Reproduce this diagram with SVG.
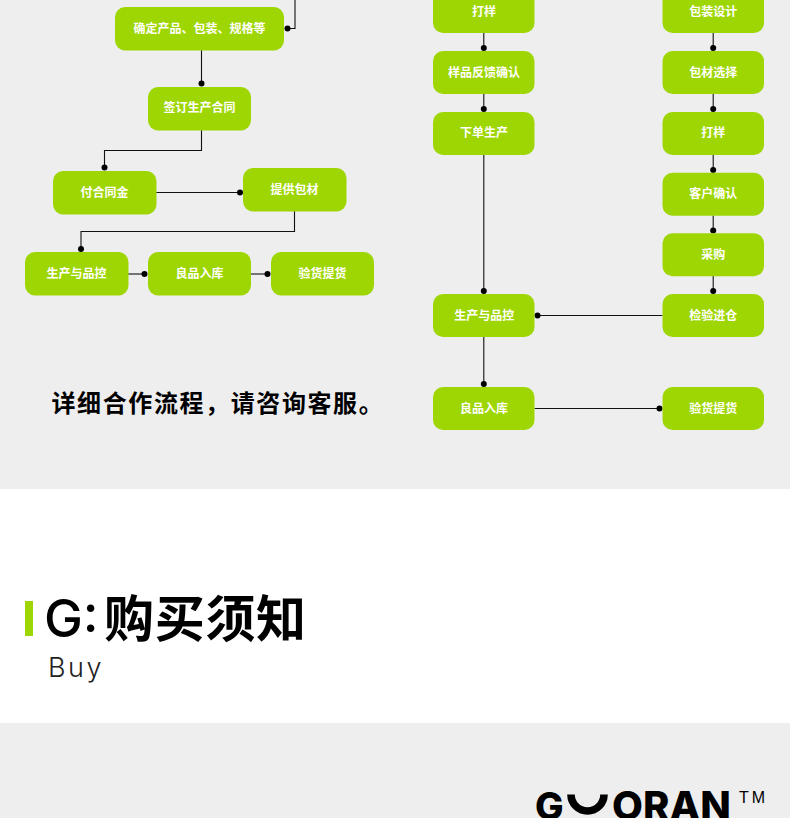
<svg xmlns="http://www.w3.org/2000/svg" width="790" height="818" viewBox="0 0 790 818">
<style>
.bg{fill:#eeeeee}
.n rect{fill:#9ed604}
.n text{fill:#fff;font:700 12px "Noto Sans CJK SC","Noto Sans",sans-serif;text-anchor:middle}
.c{fill:none;stroke:#111;stroke-width:1.1;marker-end:url(#dot)}
</style>
<defs>
<marker id="dot" markerUnits="userSpaceOnUse" markerWidth="8" markerHeight="8" refX="4" refY="4" orient="auto"><circle cx="4" cy="4" r="3" fill="#000"/></marker>
</defs>
<rect class="bg" x="0" y="0" width="790" height="489"/>
<rect x="0" y="489" width="790" height="234" fill="#fff"/>
<rect class="bg" x="0" y="723" width="790" height="95"/>
<g id="connectors">
<path class="c" d="M295 0V28.500H287.500"/>
<path class="c" d="M201.500 50V83.500"/>
<path class="c" d="M201.500 130V150.500H104.500V167.500"/>
<path class="c" d="M156 192.500H240"/>
<path class="c" d="M294.500 211V231.500H81V249"/>
<path class="c" d="M128 274H144.500"/>
<path class="c" d="M251 274H267.500"/>
<path class="c" d="M483.800 33V48"/>
<path class="c" d="M483.800 94V109"/>
<path class="c" d="M483.800 155V291"/>
<path class="c" d="M483.800 337V384"/>
<path class="c" d="M713.200 33V48"/>
<path class="c" d="M713.200 94V109"/>
<path class="c" d="M713.200 155V170"/>
<path class="c" d="M713.200 215.500V230.500"/>
<path class="c" d="M713.200 276V291"/>
<path class="c" d="M662.500 315.500H537.500"/>
<path class="c" d="M534.500 408.500H659.500"/>
</g>
<g id="n1" class="n"><rect x="115" y="7" width="169" height="43.500" rx="10"/><text x="199.500" y="32.500">确定产品、包装、规格等</text></g>
<g id="n2" class="n"><rect x="148" y="87" width="103" height="43.500" rx="10"/><text x="199.500" y="112">签订生产合同</text></g>
<g id="n3" class="n"><rect x="53" y="171" width="103.500" height="43.500" rx="10"/><text x="104.500" y="197">付合同金</text></g>
<g id="n4" class="n"><rect x="243" y="168" width="103.500" height="43.500" rx="10"/><text x="294.500" y="194">提供包材</text></g>
<g id="n5" class="n"><rect x="25" y="252" width="103.500" height="43.500" rx="10"/><text x="76.500" y="278">生产与品控</text></g>
<g id="n6" class="n"><rect x="148" y="252" width="103" height="43.500" rx="10"/><text x="199.500" y="278">良品入库</text></g>
<g id="n7" class="n"><rect x="271" y="252" width="103" height="43.500" rx="10"/><text x="322.500" y="278">验货提货</text></g>
<g id="a1" class="n"><rect x="433" y="-10" width="101.500" height="43" rx="10"/><text x="484" y="16">打样</text></g>
<g id="a2" class="n"><rect x="433" y="51" width="101.500" height="43" rx="10"/><text x="484" y="77">样品反馈确认</text></g>
<g id="a3" class="n"><rect x="433" y="112" width="101.500" height="43" rx="10"/><text x="484" y="137">下单生产</text></g>
<g id="a4" class="n"><rect x="433" y="294" width="101.500" height="43" rx="10"/><text x="484.300" y="320">生产与品控</text></g>
<g id="a5" class="n"><rect x="433" y="387" width="101.500" height="43" rx="10"/><text x="484" y="413">良品入库</text></g>
<g id="b1" class="n"><rect x="662.500" y="-10" width="101.500" height="43" rx="10"/><text x="713.200" y="16">包装设计</text></g>
<g id="b2" class="n"><rect x="662.500" y="51" width="101.500" height="43" rx="10"/><text x="713.200" y="77">包材选择</text></g>
<g id="b3" class="n"><rect x="662.500" y="112" width="101.500" height="43" rx="10"/><text x="713.200" y="137">打样</text></g>
<g id="b4" class="n"><rect x="662.500" y="172.700" width="101.500" height="43" rx="10"/><text x="713.200" y="198">客户确认</text></g>
<g id="b5" class="n"><rect x="662.500" y="233.300" width="101.500" height="43" rx="10"/><text x="713.200" y="258.500">采购</text></g>
<g id="b6" class="n"><rect x="662.500" y="294" width="101.500" height="43" rx="10"/><text x="713.200" y="320">检验进仓</text></g>
<g id="b7" class="n"><rect x="662.500" y="387" width="101.500" height="43" rx="10"/><text x="713.200" y="413">验货提货</text></g>
<text x="51.500" y="412" font-family="'Noto Sans CJK SC',sans-serif" font-weight="700" font-size="24" letter-spacing="1.6" fill="#000">详细合作流程，请咨询客服。</text>
<rect x="25" y="601" width="8" height="35" fill="#9ed604"/>
<text x="44" y="637" font-family="Inter,'Liberation Sans',sans-serif" font-weight="500" font-size="52" fill="#000">G:</text>
<text x="104" y="637" font-family="'Noto Sans CJK SC',sans-serif" font-weight="700" font-size="50" letter-spacing="0.700" fill="#000">购买须知</text>
<text x="48" y="677" font-family="Inter,'Noto Sans',sans-serif" font-weight="300" font-size="27" letter-spacing="2.500" fill="#222">Buy</text>
<g id="logo">
<text x="535" y="820" font-family="Inter,'Liberation Sans',sans-serif" font-weight="800" font-size="38" fill="#000">G</text>
<path d="M571 794.500A16.500 16.500 0 0 0 604 794.500" fill="none" stroke="#000" stroke-width="7.600"/>
<text x="612" y="820" font-family="Inter,'Liberation Sans',sans-serif" font-weight="800" font-size="40" fill="#000">ORAN</text>
<text x="739" y="803" font-family="'Liberation Sans',sans-serif" font-size="16" letter-spacing="3" fill="#000">TM</text>
</g>
</svg>
